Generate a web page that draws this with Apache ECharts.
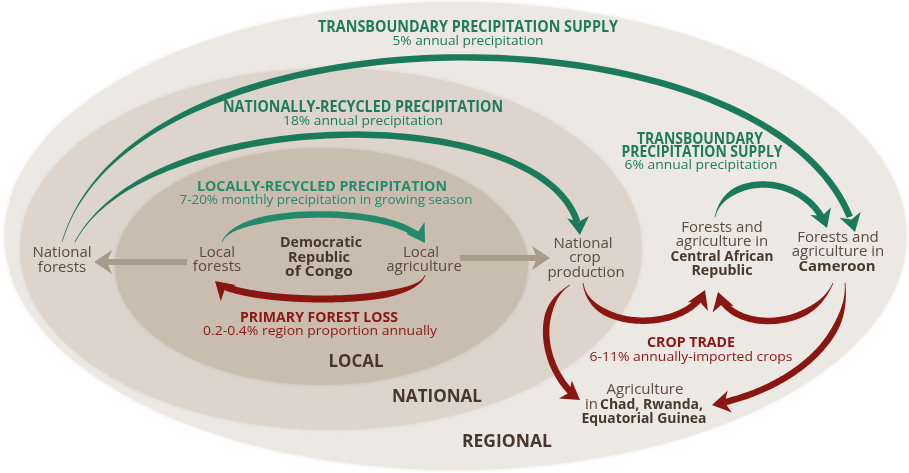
<!DOCTYPE html>
<html><head><meta charset="utf-8">
<script src="https://cdn.jsdelivr.net/npm/echarts@6/dist/echarts.min.js"></script>
<style>html,body{margin:0;padding:0;background:#fff}#c{width:909px;height:473px}</style>
</head><body><div id="c"></div>
<script>
// ---------- data (diagram units) ----------
const regionNames = ['REGIONAL', 'NATIONAL', 'LOCAL'];
const regionExtent = [            // centre x, centre y, radius x, radius y
  [455.5, 236, 451, 234],
  [331, 249, 311, 181],
  [321.5, 266.5, 206.5, 118.5]
];
const flowNames = ['Transboundary supply 5%', 'Nationally-recycled 18%', 'Locally-recycled 7-20%',
  'Transboundary supply 6%', 'Primary forest loss', 'Crop trade DRC-CAR', 'Crop trade Cameroon-CAR',
  'Crop trade DRC-Chad', 'Crop trade Cameroon-Chad', 'Local forests to national', 'Local agriculture to national'];
const flowPaths = [               // start, control 1, control 2, end
  [62, 242, 135, -5, 790, 0, 855, 232],
  [75, 242, 150, 100, 565, 100, 580, 235],
  [222, 242, 236, 206, 400, 204, 425, 243],
  [715, 217, 725, 172, 806, 172, 827, 228],
  [425, 275, 415, 308, 240, 304, 215, 281],
  [583, 283, 590, 332, 687, 332, 705, 290],
  [833, 283, 812, 332, 730, 332, 718, 292],
  [570, 285, 530, 310, 545, 375, 580, 400],
  [845, 283, 850, 340, 790, 390, 712, 405],
  [187, 262, 160, 262, 120, 262, 94, 262],
  [460, 258, 490, 258, 520, 258, 550, 258]
];
const flowKind = ['rain', 'rain', 'local', 'rain', 'loss', 'trade', 'trade', 'trade', 'trade', 'link', 'link'];
const flowTitles = ['TRANSBOUNDARY PRECIPITATION SUPPLY', 'NATIONALLY-RECYCLED PRECIPITATION',
  'LOCALLY-RECYCLED PRECIPITATION', 'TRANSBOUNDARY', 'PRECIPITATION SUPPLY', 'PRIMARY FOREST LOSS', 'CROP TRADE'];
const flowShares = ['5% annual precipitation', '18% annual precipitation',
  '7-20% monthly precipitation in growing season', '6% annual precipitation',
  '0.2-0.4% region proportion annually', '6-11% annually-imported crops'];
const nodeLines = ['National', 'forests', 'Local', 'forests', 'Democratic', 'Republic', 'of Congo',
  'Local', 'agriculture', 'National', 'crop', 'production', 'Forests and', 'agriculture in',
  'Central African', 'Republic', 'Forests and', 'agriculture in', 'Cameroon', 'Agriculture', 'in',
  'Chad, Rwanda,', 'Equatorial Guinea'];

// ---------- styles ----------
const regionFill = ['#ece9e5', '#ddd5cc', '#c9bdb0'];
const G = '#1e7b5d', GL = '#268a6b', R = '#8a1714', GREY = '#a99b89', TN = '#5b4b3c', TB = '#47382a';
const kindStyle = {
  rain: {c: '#1b7a5c', w: 6.5, L: 18, H: 11, taper: true},
  local: {c: '#23896a', w: 6.5, L: 18, H: 11, taper: true},
  loss: {c: '#8a1612', w: 7, L: 18, H: 11, taper: true},
  trade: {c: '#8a1612', w: 6.5, L: 18, H: 11, taper: true},
  link: {c: GREY, w: 6, L: 18, H: 12, taper: false}
};

// text layout: [text, x, baseline, size, bold, colour, width, align]
const textItems = [
  [flowTitles[0], 468, 33, 16, 1, G, 300],
  [flowShares[0], 468, 46, 13.5, 0, G, 151],
  [flowTitles[1], 363, 113, 16, 1, G, 280],
  [flowShares[1], 363, 126, 13.5, 0, G, 160],
  [flowTitles[2], 322, 192, 14.5, 1, GL, 250],
  [flowShares[2], 326, 205, 13.5, 0, GL, 293],
  [flowTitles[3], 700, 145, 16, 1, G, 126],
  [flowTitles[4], 702, 158, 16, 1, G, 161],
  [flowShares[3], 701, 170, 13.5, 0, G, 153],
  [flowTitles[5], 319, 323, 14.5, 1, R, 158],
  [flowShares[4], 320, 336, 13.5, 0, R, 234],
  [flowTitles[6], 691, 348, 14.5, 1, R, 88],
  [flowShares[5], 691, 362, 13.5, 0, R, 203],
  [nodeLines[0], 62, 258, 15, 0, TN, 0],
  [nodeLines[1], 62, 273, 15, 0, TN, 0],
  [nodeLines[2], 217, 258, 15, 0, TN, 0],
  [nodeLines[3], 217, 272, 15, 0, TN, 0],
  [nodeLines[4], 321, 248, 14.5, 1, TB, 82],
  [nodeLines[5], 319, 263, 14.5, 1, TB, 62],
  [nodeLines[6], 319, 277, 14.5, 1, TB, 68],
  [nodeLines[7], 421, 258, 15, 0, TN, 0],
  [nodeLines[8], 424, 272, 15, 0, TN, 0],
  [nodeLines[9], 583, 249, 15, 0, TN, 0],
  [nodeLines[10], 585, 263, 15, 0, TN, 0],
  [nodeLines[11], 586, 278, 15, 0, TN, 0],
  [nodeLines[12], 722, 233, 15, 0, TN, 0],
  [nodeLines[13], 722, 247, 15, 0, TN, 0],
  [nodeLines[14], 722, 262, 15, 1, TB, 103],
  [nodeLines[15], 722, 276, 15, 1, TB, 61],
  [nodeLines[16], 838, 243, 15, 0, TN, 0],
  [nodeLines[17], 838, 257, 15, 0, TN, 0],
  [nodeLines[18], 837, 272, 15, 1, TB, 77],
  [nodeLines[19], 645, 395, 15, 0, TN, 0],
  [nodeLines[20], 585, 410, 15, 0, TN, 0, 'left'],
  [nodeLines[21], 600, 410, 15, 1, TB, 103, 'left'],
  [nodeLines[22], 644, 424, 15, 1, TB, 125],
  [regionNames[2], 356, 368, 18, 1, TB, 55],
  [regionNames[1], 437, 403, 18, 1, TB, 90],
  [regionNames[0], 507, 448, 18, 1, TB, 90]
];

const FONT = '"Open Sans", "Noto Sans", sans-serif';
const mctx = document.createElement('canvas').getContext('2d');
const textMeta = textItems.map(d => {
  const font = (d[4] ? 'bold ' : '') + d[3] + 'px ' + FONT;
  mctx.font = font;
  const m = mctx.measureText(d[0]).width;
  return {font: font, sx: d[6] ? d[6] / m : 1};
});

// ---------- renderers ----------
function renderRegion(params, api) {
  const i = api.value(4);
  const c = api.coord([api.value(0), api.value(1)]);
  const s = api.size([api.value(2), api.value(3)]);
  const rx = Math.abs(s[0]), ry = Math.abs(s[1]);
  const pts = [];
  for (let k = 0; k < 240; k++) {
    const a = k / 240 * Math.PI * 2;
    pts.push([c[0] + rx * Math.cos(a), c[1] + ry * Math.sin(a)]);
  }
  return {type: 'polygon', shape: {points: pts},
    style: {fill: regionFill[i], shadowBlur: 4, shadowColor: regionFill[i]}};
}

function bez(p, t) {
  const u = 1 - t;
  return [0, 1].map(k => u * u * u * p[0][k] + 3 * u * u * t * p[1][k] + 3 * u * t * t * p[2][k] + t * t * t * p[3][k]);
}
function dbez(p, t) {
  const u = 1 - t;
  return [0, 1].map(k => 3 * u * u * (p[1][k] - p[0][k]) + 6 * u * t * (p[2][k] - p[1][k]) + 3 * t * t * (p[3][k] - p[2][k]));
}
function renderFlow(params, api) {
  const idx = api.value(8);
  const st = kindStyle[flowKind[idx]];
  const p = [0, 1, 2, 3].map(k => api.coord([api.value(2 * k), api.value(2 * k + 1)]));
  const tip = p[3];
  let d = [p[3][0] - p[2][0], p[3][1] - p[2][1]];
  let dl = Math.hypot(d[0], d[1]); d = [d[0] / dl, d[1] / dl];
  const n = [-d[1], d[0]];
  const left = [], right = [];
  const N = 90;
  for (let k = 0; k <= N; k++) {
    const t = k / N;
    const q = bez(p, t);
    if (t > 0.5 && Math.hypot(q[0] - tip[0], q[1] - tip[1]) < st.L * 0.6) break;
    let dv = dbez(p, t); const l = Math.hypot(dv[0], dv[1]) || 1;
    const nn = [-dv[1] / l, dv[0] / l];
    let w = st.w;
    if (st.taper) { const x = Math.min(1, t / 0.3); w = st.w * (0.12 + 0.88 * x * x * (3 - 2 * x)); }
    left.push([q[0] + nn[0] * w / 2, q[1] + nn[1] * w / 2]);
    right.push([q[0] - nn[0] * w / 2, q[1] - nn[1] * w / 2]);
  }
  const shaft = left.concat(right.reverse());
  const head = [
    tip,
    [tip[0] - d[0] * st.L + n[0] * st.H, tip[1] - d[1] * st.L + n[1] * st.H],
    [tip[0] - d[0] * (st.L - 5), tip[1] - d[1] * (st.L - 5)],
    [tip[0] - d[0] * st.L - n[0] * st.H, tip[1] - d[1] * st.L - n[1] * st.H]
  ];
  return {type: 'group', children: [
    {type: 'polygon', shape: {points: shaft}, style: {fill: st.c}},
    {type: 'polygon', shape: {points: head}, style: {fill: st.c}}
  ]};
}

function renderText(params, api) {
  const i = api.value(2);
  const d = textItems[i], m = textMeta[i];
  const p = api.coord([api.value(0), api.value(1)]);
  return {type: 'text', x: p[0], y: p[1] - 0.36 * d[3], scaleX: m.sx,
    style: {text: d[0], x: 0, y: 0, fill: d[5], font: m.font, align: d[7] || 'center', verticalAlign: 'middle'}};
}

const chart = echarts.init(document.getElementById('c'), null, {renderer: 'canvas'});
chart.setOption({
  animation: false,
  backgroundColor: '#ffffff',
  grid: {left: 0, right: 0, top: 0, bottom: 0},
  xAxis: {type: 'value', min: 0, max: 909, show: false},
  yAxis: {type: 'value', min: 0, max: 473, inverse: true, show: false},
  series: [
    {type: 'custom', name: 'regions', renderItem: renderRegion, clip: false, silent: true, z: 1,
      data: regionExtent.map((e, i) => [e[0], e[1], e[2], e[3], i])},
    {type: 'custom', name: 'flows', renderItem: renderFlow, clip: false, silent: true, z: 2,
      data: flowPaths.map((f, i) => f.concat([i]))},
    {type: 'custom', name: 'labels', renderItem: renderText, clip: false, silent: true, z: 3,
      data: textItems.map((d, i) => [d[1], d[2], i])}
  ]
});
</script></body></html>
